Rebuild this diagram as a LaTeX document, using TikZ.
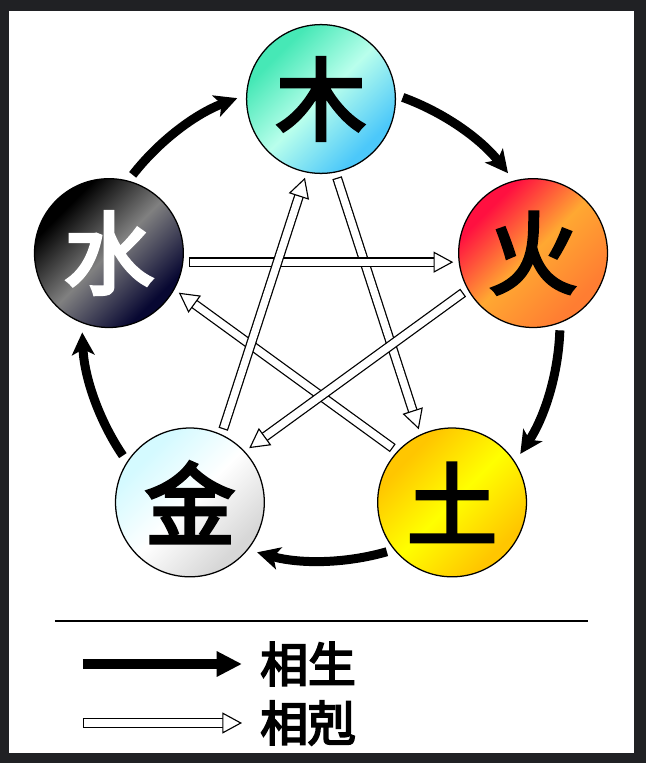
\documentclass[tikz,border=0pt]{standalone}
\usepackage{fontspec}
\newfontfamily\cjk{Noto Sans CJK TC}[FakeBold=4]
\usetikzlibrary{arrows.meta,positioning,calc}

\definecolor{frame}{RGB}{32,33,36}
\definecolor{mugreen}{RGB}{70,232,182}
\definecolor{mupale}{RGB}{185,255,236}
\definecolor{mublue}{RGB}{76,200,250}
\definecolor{huored}{RGB}{255,16,64}
\definecolor{huoorange}{RGB}{255,168,50}
\definecolor{huodeep}{RGB}{255,125,50}
\definecolor{tugold}{RGB}{255,198,0}
\definecolor{tuyellow}{RGB}{255,255,0}
\definecolor{jincyan}{RGB}{212,250,255}
\definecolor{jingray}{RGB}{215,215,215}
\definecolor{shuigray}{RGB}{128,128,128}
\definecolor{shuinavy}{RGB}{8,8,50}

% three-band diagonal fill of the element discs
\colorlet{gA}{white}\colorlet{gB}{white}\colorlet{gC}{white}
\pgfdeclareverticalshading[gA,gB,gC]{tri}{100bp}{color(0bp)=(gC); color(28bp)=(gC);
  color(50bp)=(gB); color(71bp)=(gA); color(100bp)=(gA)}

\tikzset{
  elem/.style={circle, draw, line width=0.9pt, minimum size=3.72cm, inner sep=0pt,
    outer sep=0pt, font=\cjk\fontsize{64}{64}\selectfont},
  grad/.style n args={3}{/utils/exec={\colorlet{gA}{#1}\colorlet{gB}{#2}\colorlet{gC}{#3}},
    shade, shading=tri, shading angle=45},
  sheng/.style={line width=6.4pt, -{Stealth[length=16pt, width=16pt, inset=4pt]}},
  ke/.style={draw=white, line width=5.2pt, shorten <={#1+0.9pt}, shorten >=#1,
    -{Triangle[length=14pt, width=15pt, color=black, fill=white, line width=0.8pt]},
    preaction={draw=black, line width=7pt, arrows=-, shorten <=#1, shorten >={#1+13pt}}},
  ke/.default=0pt,
  lbl/.style={inner sep=0pt, font=\cjk\fontsize{34}{34}\selectfont}
}

\begin{document}
\begin{tikzpicture}
    % Frame
    \useasboundingbox (-8.025,-11.025) rectangle (8.125,8.05);
    \fill[frame] (-8.025,-11.025) rectangle (8.125,8.05);
    \fill[white] (-7.8,-10.775) rectangle (7.825,7.775);

    % Five elements
    \node[elem, grad={mugreen}{mupale}{mublue}] (mu) at (90:5.575) {木};
    \node[elem, grad={huored}{huoorange}{huodeep}] (huo) at (18:5.575) {火};
    \node[elem, grad={tugold}{tuyellow}{tugold}] (tu) at (-54:5.575) {土};
    \node[elem, grad={jincyan}{white}{jingray}] (jin) at (-126:5.575) {金};
    \node[elem, grad={black}{shuigray}{shuinavy}, text=white] (shui) at (162:5.575) {水};

    % Generating cycle (outer arcs)
    \foreach \p in {90,18,-54,-126,162}
        \draw[sheng] ({\p-20}:5.975) arc[start angle=\p-20, end angle=\p-51.5, radius=5.975];

    % Overcoming cycle (star)
    \foreach \a/\b/\p in {mu/tu/90, tu/shui/-54, shui/huo/162, huo/jin/18, jin/mu/-126} {
        \pgfmathtruncatemacro\s{\p-169}
        \pgfmathtruncatemacro\e{\p+25}
        \draw[ke=0.15cm] (\a.\s) -- (\b.\e);
    }

    % Legend
    \draw[line width=2pt] (-6.65,-7.475) -- (6.675,-7.475);
    \coordinate (s1) at (-5.95,-8.55);
    \coordinate (e1) at (-1.975,-8.55);
    \coordinate (s2) at (-5.95,-10.025);
    \coordinate (e2) at (-1.975,-10.025);
    \draw[line width=7.6pt, -{Triangle[length=18pt, width=17pt]}] (s1) -- (e1);
    \draw[ke] (s2) -- (e2);
    \node[lbl, right=0.45cm of e1] (tsheng) {相生};
    \node[lbl, right=0.45cm of e2] (tke) {相剋};
\end{tikzpicture}
\end{document}
